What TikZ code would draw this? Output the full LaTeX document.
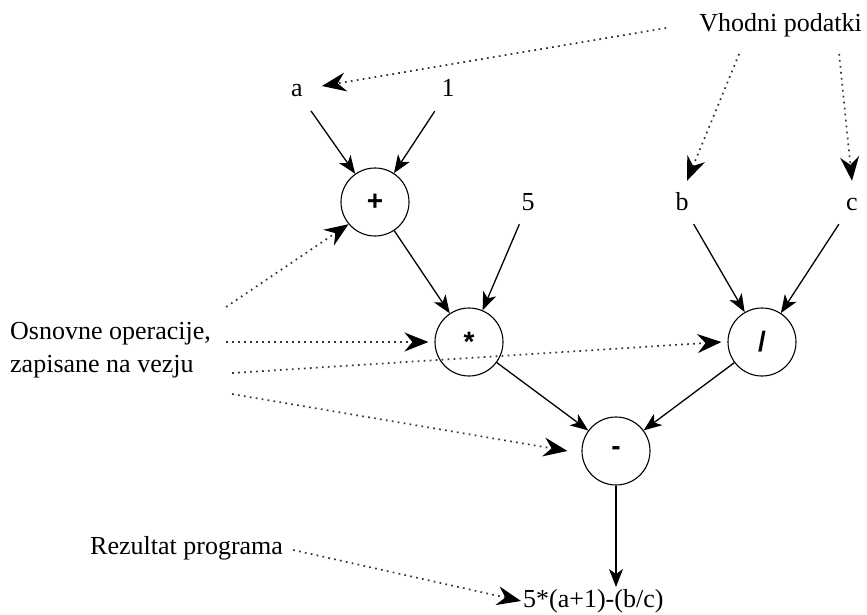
\documentclass[tikz,border=0pt]{standalone}
\usepackage{fontspec}
\setmainfont{Liberation Serif}
\newfontfamily\txtfont{Liberation Serif}
\newfontfamily\opfont{Liberation Sans}
\usetikzlibrary{arrows.meta,calc}
\begin{document}
\begin{tikzpicture}[x=1pt,y=-1pt,
  lbl/.style={font=\txtfont\fontsize{26}{31}\selectfont, inner sep=0pt},
  var/.style={font=\txtfont\fontsize{26}{31}\selectfont, inner sep=8pt, text height=18pt, text depth=6pt},
  op/.style={circle, draw, line width=1.1pt, minimum size=68pt, inner sep=0pt, font=\opfont\bfseries\fontsize{28}{34}\selectfont},
  flow/.style={-{Stealth[length=18pt,width=14pt,inset=5pt]}, line width=1.3pt},
  note/.style={-{Stealth[length=24pt,width=19pt,inset=8pt,color=black]}, line width=1.7pt, dash pattern=on 1.7pt off 4.3pt, draw=black!80}
]
\useasboundingbox (0,0) rectangle (867,615);

% nodes
\node[lbl, anchor=east] (vp) at (862,25) {Vhodni podatki};
\node[var] (a) at (297,91) {a};
\node[var] (one) at (448,91) {1};
\node[op] (plus) at (375,202) {+};
\node[var] (five) at (528,204) {5};
\node[var] (b) at (682,204) {b};
\node[var] (c) at (852,204) {c};
\node[op] (mul) at (469,342) {*};
\node[op] (div) at (762,342) {/};
\node[op] (sub) at (616,451) {-};
\node[lbl, anchor=west, inner sep=2pt] (res) at (521,601) {5*(a+1)-(b/c)};
\node[lbl, anchor=west, align=left] (osn) at (10,350) {Osnovne operacije,\\[2pt]zapisane na vezju};
\node[lbl, anchor=west] (rez) at (90,548) {Rezultat programa};

% solid connectors
\draw[flow] (a) -- (plus);
\draw[flow] (one) -- (plus);
\draw[flow] (plus) -- (mul);
\draw[flow] (five) -- (mul);
\draw[flow] (b) -- (div);
\draw[flow] (c) -- (div);
\draw[flow] (mul) -- (sub);
\draw[flow] (div) -- (sub);
\draw[flow] (sub) -- (sub |- res.north);

% dotted notes
\coordinate (vpa) at ($(vp.west)+(-33,3)$);
\coordinate (vpb) at ($(vp.south west)+(40,17)$);
\coordinate (vpc) at ($(vp.south west)+(140,17)$);
\draw[note] (vpa) -- ($(a.east)+(11,-5)$);
\draw[note] (vpb) -- ($(b.north)+(5,-3)$);
\draw[note] (vpc) -- ($(c.north)+(0,-3)$);

\coordinate (o1) at ($(osn.north east)+(15,-15)$);
\coordinate (o2) at ($(osn.east)+(15,-8)$);
\coordinate (o3) at ($(osn.east)+(21,23)$);
\coordinate (o4) at ($(osn.south east)+(21,16)$);
\draw[note] (o1) -- (plus.220);
\draw[note] (o2) -- ($(mul.west)+(-6,0)$);
\draw[note] (o3) -- ($(div.west)+(-6,0)$);
\draw[note] (o4) -- ($(sub.west)+(-14,0)$);

\draw[note] ($(rez.east)+(10,2)$) -- (res.west);
\end{tikzpicture}
\end{document}
